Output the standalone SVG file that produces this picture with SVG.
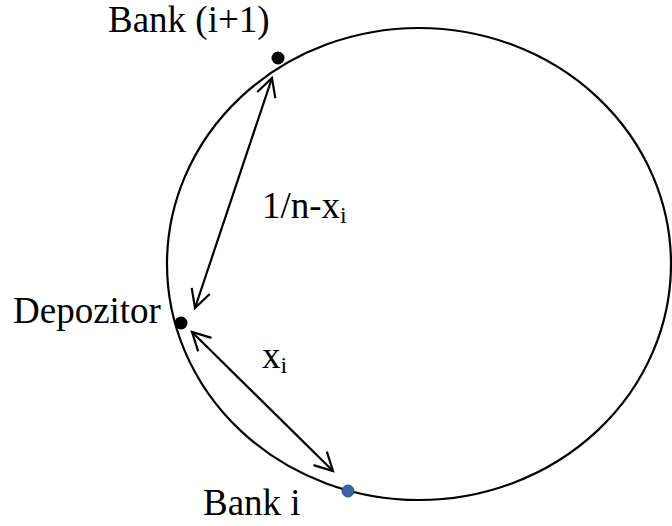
<svg xmlns="http://www.w3.org/2000/svg" width="672" height="526" viewBox="0 0 672 526">
<style>
text{font-family:"Liberation Serif","Times New Roman",serif;font-size:37px;fill:#000}
.sub{font-size:24px}
.conn{stroke:#000;stroke-width:2.2;fill:none;marker-start:url(#ah);marker-end:url(#ah)}
</style>
<defs>
<marker id="ah" viewBox="0 0 20 20" refX="19" refY="10" markerWidth="20" markerHeight="20" markerUnits="userSpaceOnUse" orient="auto-start-reverse" overflow="visible">
<path d="M1,0.5 L19,10 L1,19.5" fill="none" stroke="#000" stroke-width="2.2"/>
</marker>
</defs>
<g id="ring">
<ellipse cx="419" cy="264" rx="252" ry="236" fill="none" stroke="#000" stroke-width="2.2"/>
</g>
<g id="bank-i1">
<circle cx="278" cy="58" r="6.5" fill="#000"/>
<text x="108" y="32">Bank (i+1)</text>
</g>
<g id="depozitor">
<circle cx="181" cy="323" r="6.5" fill="#000"/>
<text x="13" y="323">Depozitor</text>
</g>
<g id="bank-i">
<circle cx="348" cy="491" r="6" fill="#3c64a0" stroke="#2f4f80" stroke-width="1"/>
<text x="203" y="515">Bank i</text>
</g>
<g id="connectors">
<line class="conn" x1="195" y1="308" x2="272" y2="78"/>
<line class="conn" x1="333" y1="471" x2="192" y2="332"/>
</g>
<g id="labels">
<text x="262" y="218">1/n-x<tspan class="sub" dy="5">i</tspan></text>
<text x="262" y="368">x<tspan class="sub" dy="5">i</tspan></text>
</g>
</svg>
